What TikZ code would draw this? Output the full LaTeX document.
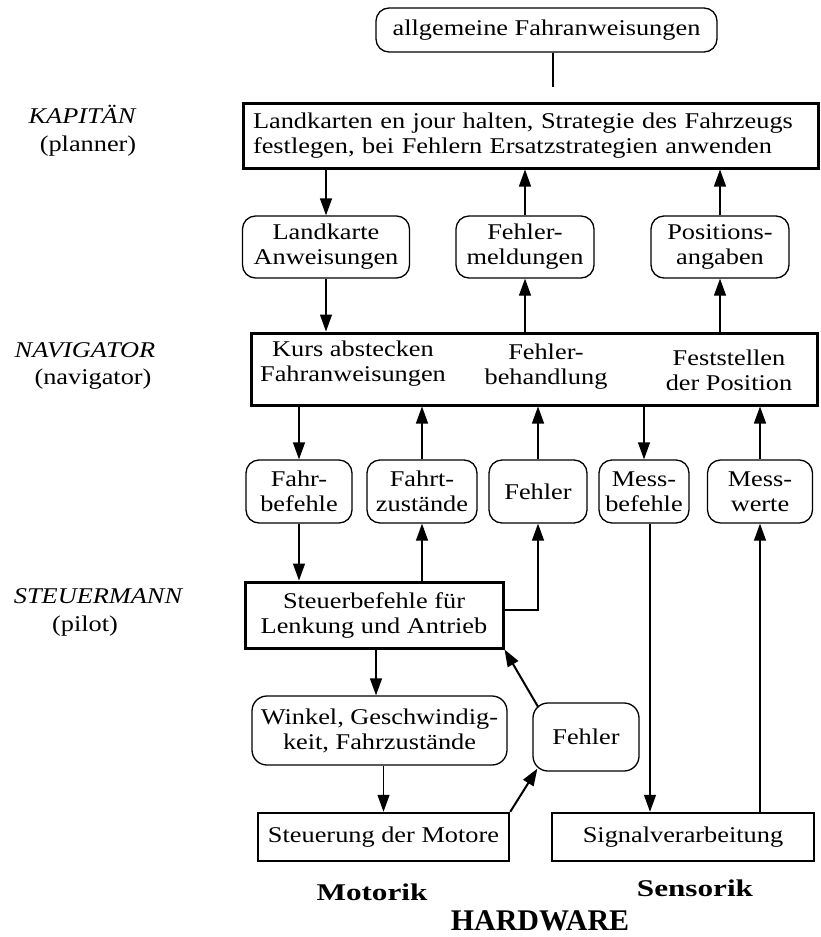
\documentclass[tikz,border=0pt]{standalone}
\usepackage{fontspec}
\setmainfont{Liberation Serif}[FakeStretch=1.17]
\newfontfamily\widerserif{Liberation Serif}[FakeStretch=1.3]
\newfontfamily\plainserif{Liberation Serif}
\usetikzlibrary{arrows.meta}

\begin{document}
\begin{tikzpicture}[x=1pt,y=-1pt,
  every node/.style={font=\fontsize{22.5}{25}\selectfont, inner sep=0pt, align=center},
  rbox/.style={draw, rounded corners=13pt, line width=1.3pt},
  tbox/.style={draw, line width=3pt},
  mbox/.style={draw, line width=2.5pt},
  link/.style={line width=1.3pt},
  arr/.style={line width=1.3pt, -{Triangle[length=17pt,width=12pt]}},
  darr/.style={line width=2pt, -{Triangle[length=17pt,width=12pt]}},
  role/.style={font=\fontsize{22.5}{25}\selectfont\itshape, anchor=base},
  engl/.style={font=\fontsize{22.5}{25}\selectfont, anchor=base},
  area/.style={font=\widerserif\bfseries\fontsize{24}{28}\selectfont, anchor=base},
]
\useasboundingbox (0,0) rectangle (821,937);

% level labels
\node[role] (kapitaen) at (82,123) {KAPITÄN};
\node[engl] (planner) at (88,151) {(planner)};
\node[role] (navigator) at (85,357) {NAVIGATOR};
\node[engl] (navigatorE) at (93,384) {(navigator)};
\node[role] (steuermann) at (98,603) {STEUERMANN};
\node[engl] (pilot) at (85,631) {(pilot)};

% planner level
\node[rbox, minimum width=341pt, minimum height=44pt] (top) at (546.5,30) {allgemeine Fahranweisungen};
\coordinate (topend) at (553,87);
\draw[link] (top.south -| topend) -- (topend);

\node[tbox, minimum height=65pt, text width=565pt, inner xsep=5pt, align=left] (kap) at (530.5,135.5)
  {\hspace{5pt}Landkarten en jour halten, Strategie des Fahrzeugs\\\hspace{5pt}festlegen, bei Fehlern Ersatzstrategien anwenden};

\node[rbox, minimum width=167pt, minimum height=62pt] (land) at (326,247) {Landkarte\\Anweisungen};
\node[rbox, minimum width=138pt, minimum height=62pt] (fmeld) at (525,247) {Fehler-\\meldungen};
\node[rbox, minimum width=138pt, minimum height=62pt] (posang) at (720,247) {Positions-\\angaben};

% navigator level
\node[tbox, minimum width=566pt, minimum height=72pt] (nav) at (534,369) {};
\node (navA) at (353,364) {Kurs abstecken\\Fahranweisungen};
\node (navB) at (546,367) {Fehler-\\behandlung};
\node (navC) at (729,370) {Feststellen\\der Position};

\draw[arr] (kap.south -| land.north) -- (land.north);
\draw[arr] (land.south) -- (land.south |- nav.north);
\draw[arr] (fmeld.north) -- (fmeld.north |- kap.south);
\draw[arr] (fmeld.south |- nav.north) -- (fmeld.south);
\draw[arr] (posang.north) -- (posang.north |- kap.south);
\draw[arr] (posang.south |- nav.north) -- (posang.south);

% messages between navigator and pilot
\node[rbox, minimum width=106pt, minimum height=63pt] (fahrb) at (299,491.5) {Fahr-\\befehle};
\node[rbox, minimum width=110pt, minimum height=63pt] (fahrtz) at (422,491.5) {Fahrt-\\zustände};
\node[rbox, minimum width=98pt, minimum height=63pt] (fehlA) at (538,491.5) {Fehler};
\node[rbox, minimum width=90pt, minimum height=63pt] (messb) at (644,491.5) {Mess-\\befehle};
\node[rbox, minimum width=105pt, minimum height=63pt] (messw) at (760,491.5) {Mess-\\werte};

\draw[arr] (fahrb.north |- nav.south) -- (fahrb.north);
\draw[arr] (fahrtz.north) -- (fahrtz.north |- nav.south);
\draw[arr] (fehlA.north) -- (fehlA.north |- nav.south);
\draw[arr] (messb.north |- nav.south) -- (messb.north);
\draw[arr] (messw.north) -- (messw.north |- nav.south);

% pilot level
\node[tbox, minimum width=258pt, minimum height=66pt] (steuer) at (374,615) {Steuerbefehle für\\Lenkung und Antrieb};

\draw[arr] (fahrb.south) -- (fahrb.south |- steuer.north);
\draw[arr] (fahrtz.south |- steuer.north) -- (fahrtz.south);
\draw[arr] ([yshift=5pt]steuer.east) -| (fehlA.south);

% hardware level
\node[rbox, rounded corners=15pt, minimum width=255pt, minimum height=69pt] (winkel) at (379.5,730.5)
  {Winkel, Geschwindig-\\keit, Fahrzustände};
\node[rbox, rounded corners=15pt, minimum width=106pt, minimum height=68pt] (fehlB) at (586,737) {Fehler};
\node[mbox, minimum width=251pt, minimum height=48pt] (motore) at (383.5,837) {Steuerung der Motore};
\node[mbox, minimum width=262pt, minimum height=48pt] (signal) at (683,837) {Signalverarbeitung};

\draw[arr] ([xshift=2pt]steuer.south) -- ([xshift=2pt]steuer.south |- winkel.north);
\draw[arr] (winkel.south -| motore.north) -- (motore.north);
\draw[darr] ([xshift=6pt,yshift=-5pt]fehlB.north west) -- (steuer.south east);
\draw[darr] (motore.north east) -- ([xshift=5pt,yshift=3pt]fehlB.south west);
\draw[arr] ([xshift=6pt]messb.south) -- ([xshift=6pt]messb.south |- signal.north);
\draw[arr] (messw.south |- signal.north) -- (messw.south);

% hardware captions
\node[area] (motorik) at (372,900) {Motorik};
\node[area] (sensorik) at (695,896) {Sensorik};
\node[anchor=base, font=\plainserif\bfseries\fontsize{30}{36}\selectfont] (hardware) at (540,930) {HARDWARE};
\end{tikzpicture}
\end{document}
